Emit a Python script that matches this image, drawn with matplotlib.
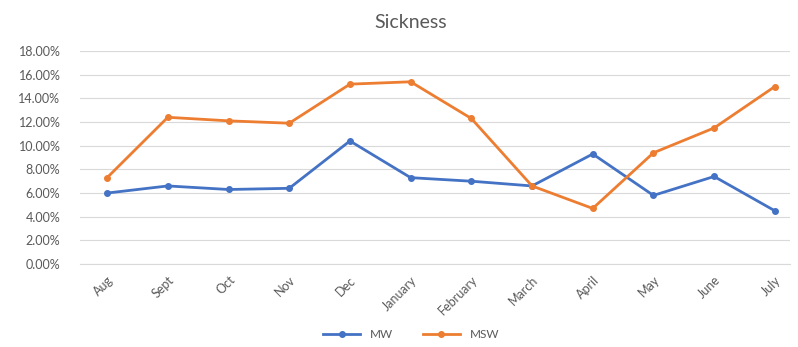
import matplotlib
matplotlib.use("Agg")
import matplotlib.pyplot as plt
from matplotlib.ticker import PercentFormatter

months = ["Aug", "Sept", "Oct", "Nov", "Dec", "January", "February",
          "March", "April", "May", "June", "July"]
mw = [6.0, 6.6, 6.3, 6.4, 10.4, 7.3, 7.0, 6.6, 9.3, 5.8, 7.4, 4.5]
msw = [7.3, 12.4, 12.1, 11.9, 15.2, 15.4, 12.3, 6.6, 4.7, 9.4, 11.5, 15.0]
series_names = ["MW", "MSW"]

plt.rcParams["font.family"] = ["Lato", "DejaVu Sans"]
grey = "#595959"

fig = plt.figure(figsize=(7.98, 3.47), dpi=100)
ax = fig.add_axes([0.100, 0.239, 0.890, 0.614])

x = list(range(len(months)))
ax.plot(x, mw, color="#4472C4", lw=2.0, marker="o", markersize=4,
        label=series_names[0], zorder=3)
ax.plot(x, msw, color="#ED7D31", lw=2.0, marker="o", markersize=4,
        label=series_names[1], zorder=3)

ax.set_ylim(0, 18)
ax.set_yticks(range(0, 19, 2))
ax.yaxis.set_major_formatter(PercentFormatter(decimals=2))
ax.set_xlim(-0.45, 11.25)
ax.set_xticks(x)
ax.set_xticklabels(months, rotation=45, ha="right", rotation_mode="anchor")

ax.grid(axis="y", color="#D9D9D9", lw=0.8)
ax.set_axisbelow(True)
for side in ["top", "right", "left"]:
    ax.spines[side].set_visible(False)
ax.spines["bottom"].set_color("#D9D9D9")
ax.tick_params(axis="both", length=0, colors=grey)
ax.tick_params(axis="y", labelsize=9, pad=14)
ax.tick_params(axis="x", labelsize=9, pad=7)

fig.text(0.515, 0.935, "Sickness", ha="center", va="center",
         fontsize=14, color=grey)

fig.legend(loc="center", bbox_to_anchor=(0.515, 0.035), ncol=2, frameon=False,
           fontsize=8.5, labelcolor=grey, handlelength=3.2, columnspacing=2.5)

fig.savefig("out.png", dpi=100)
